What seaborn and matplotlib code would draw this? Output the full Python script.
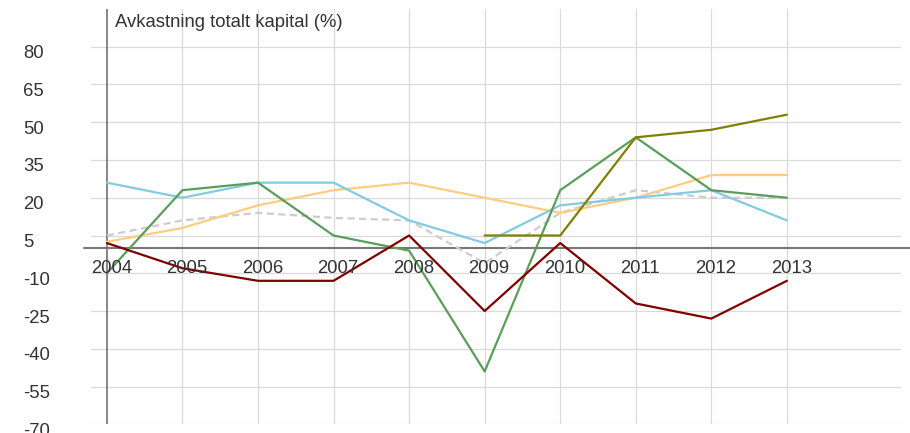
import matplotlib
matplotlib.use("Agg")
import numpy as np
import pandas as pd
import matplotlib.pyplot as plt
import matplotlib.transforms as mtransforms
import seaborn as sns

# --- data ---
years = [2004, 2005, 2006, 2007, 2008, 2009, 2010, 2011, 2012, 2013]
snitt = [5, 11, 14, 12, 11, -6, 14, 23, 20, 20]
selskap_a = [2.5, 8, 17, 23, 26, 20, 14, 20, 29, 29]
selskap_b = [26, 20, 26, 26, 11, 2, 17, 20, 23, 11]
selskap_c = [-10, 23, 26, 5, -1, -49, 23, 44, 23, 20]
selskap_d = [np.nan, np.nan, np.nan, np.nan, np.nan, 5, 5, 44, 47, 53]
selskap_e = [2, -8, -13, -13, 5, -25, 2, -22, -28, -13]

series_names = ["Snitt", "Selskap A", "Selskap B", "Selskap C", "Selskap D", "Selskap E"]
series_values = [snitt, selskap_a, selskap_b, selskap_c, selskap_d, selskap_e]
colors = ["#cccccc", "#ffcc80", "#82cbe0", "#5a9e5a", "#808000", "#800000"]
y_ticks = list(range(-70, 81, 15))
title = "Avkastning totalt kapital (%)"

df = pd.concat(
    [pd.DataFrame({"year": years, "value": vals, "serie": name})
     for name, vals in zip(series_names, series_values)],
    ignore_index=True,
).dropna()

sns.set_style("white")
plt.rcParams["font.family"] = ["Liberation Sans", "DejaVu Sans"]
plt.rcParams["axes.unicode_minus"] = False

FS = 13.3
fig = plt.figure(figsize=(9.1, 4.33), dpi=100)
ax = fig.add_axes([91 / 910, 1 - 424.3 / 433, 810 / 910, (424.3 - 8.7) / 433])

ax.set_xlim(2003.79, 2014.51)
ax.set_ylim(-70, 95.1)

sns.lineplot(
    data=df, x="year", y="value", hue="serie", style="serie",
    hue_order=series_names, style_order=series_names,
    palette=dict(zip(series_names, colors)),
    dashes={n: ((3.2, 2) if n == "Snitt" else "") for n in series_names},
    linewidth=1.6, legend=False, ax=ax, zorder=3,
)

# grid and axes
for s in ax.spines.values():
    s.set_visible(False)
ax.set_yticks(y_ticks)
ax.set_xticks(years[1:])
ax.grid(True, color="#dadada", linewidth=0.9, zorder=0)
ax.set_axisbelow(True)
ax.set_xlabel("")
ax.set_ylabel("")
ax.tick_params(axis="x", length=0, labelbottom=False)
ax.tick_params(axis="y", length=0, pad=49, labelsize=FS, labelcolor="#333333")
ylab_shift = mtransforms.ScaledTranslation(0, -7 / 100, fig.dpi_scale_trans)
for lbl in ax.get_yticklabels():
    lbl.set_horizontalalignment("left")
    lbl.set_verticalalignment("center")
    lbl.set_transform(lbl.get_transform() + ylab_shift)

ax.axvline(years[0], color="#666666", linewidth=1.1, zorder=2)
ax.axhline(0, xmin=-7 / 810, xmax=1.012, color="#777777", linewidth=1.5,
           clip_on=False, zorder=2)

# year labels sit just under the zero line
offset = mtransforms.ScaledTranslation(4.5 / 100, -20 / 100, fig.dpi_scale_trans)
for yr in years:
    ax.text(yr, 0, str(yr), transform=ax.transData + offset,
            ha="center", va="center", fontsize=FS, color="#333333", zorder=4)

fig.text(115 / 910, 1 - 22.5 / 433, title, ha="left", va="center",
         fontsize=FS, color="#333333")

fig.savefig("out.png", dpi=100)
